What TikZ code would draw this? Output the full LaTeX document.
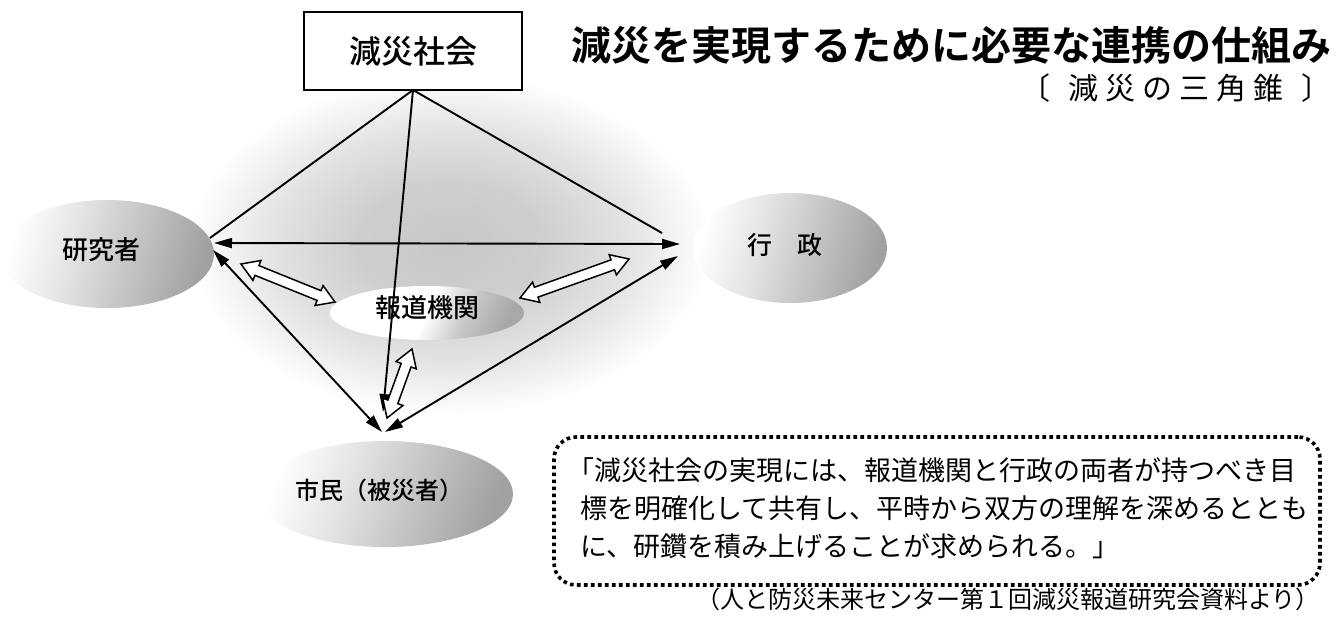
\documentclass[tikz,border=0pt]{standalone}
\usepackage{fontspec}
\newfontfamily\jp{Noto Sans CJK JP}
\newfontfamily\jpm{Noto Sans CJK JP Medium}
\newfontfamily\jpb{Noto Sans CJK JP Bold}
\usetikzlibrary{arrows.meta,shapes.arrows,calc}
\pgfdeclarehorizontalshading{blobR}{100bp}{color(0bp)=(white); color(25bp)=(white); color(40bp)=(gray!20); color(56bp)=(gray!45); color(75bp)=(gray!74); color(100bp)=(gray!74)}
\pgfdeclarehorizontalshading{mediaS}{100bp}{color(0bp)=(white); color(25bp)=(white); color(50bp)=(white); color(62bp)=(gray!42); color(75bp)=(gray!68); color(100bp)=(gray!68)}
\pgfdeclareradialshading{cloudS}{\pgfpoint{0bp}{0bp}}{color(0bp)=(gray!44); color(9bp)=(gray!38); color(17bp)=(gray!22); color(25bp)=(white); color(50bp)=(white)}
\tikzset{ah/.tip={Triangle[length=18pt,width=10pt]}}
\begin{document}
\begin{tikzpicture}[x=1pt,y=-1pt,
  lbl/.style={font=\jpm\fontsize{26}{26}\selectfont, inner sep=0pt},
  conn/.style={line width=1.9pt},
  hollow/.style={double arrow, draw, fill=white, line width=1.5pt, inner xsep=0pt, inner ysep=4.5pt,
    double arrow head extend=5.5pt, double arrow tip angle=64},
  bodytxt/.style={font=\jp\fontsize{27}{27}\selectfont, inner sep=0pt, anchor=west}]
\useasboundingbox (0,0) rectangle (1336,630);

% background cloud of the pyramid
\shade[shading=cloudS] (450,245) ellipse [x radius=260pt, y radius=170pt];

% blobs
\shade[shading=blobR, shading angle=-15] (107,254) ellipse [x radius=107pt, y radius=54pt];
\shade[shading=blobR, shading angle=-15] (790,248) ellipse [x radius=97pt, y radius=55pt];
\shade[shading=mediaS, shading angle=-25] (427,313) ellipse [x radius=97pt, y radius=27pt];
\shade[shading=blobR, shading angle=-20] (385,494) ellipse [x radius=128pt, y radius=53pt];

% top box
\node[draw, line width=1.9pt, fill=white, minimum width=218pt, minimum height=78pt,
  font=\jpm\fontsize{32}{32}\selectfont, inner sep=0pt] (soc) at (413,51) {減災社会};

% labels
\node[lbl] (res) at (101,250) {研究者};
\node[lbl, font=\jpm\fontsize{25}{25}\selectfont] (gov) at (785,245) {行　政};
\node[lbl] (med) at (427,308) {報道機関};
\node[lbl, font=\jpm\fontsize{24}{24}\selectfont] (cit) at (379,490) {市民（被災者）};

% title
\node[anchor=west, inner sep=0pt, font=\jpb\fontsize{40}{40}\selectfont] (title) at (571,45) {減災を実現するために必要な連携の仕組み};
\node[anchor=east, inner sep=0pt, font=\jp\fontsize{30}{30}\selectfont] (sub) at (1332,88)
  {〔\kern18pt 減\kern7pt 災\kern7pt の\kern7pt 三\kern7pt 角\kern7pt 錐\kern18pt 〕};

% vertices
\coordinate (apex) at (413,90);
\coordinate (Lt) at (210,238);
\coordinate (Lh) at (214,243);
\coordinate (Lb) at (213,250);
\coordinate (Rt) at (662,233);
\coordinate (Rh) at (680,244);
\coordinate (Rb) at (678,256);
\coordinate (Bv) at (383,412);
\coordinate (Bl) at (382,432);
\coordinate (Br) at (385,432);

\draw[conn] (apex) -- (Lt);
\draw[conn] (apex) -- (Rt);
\draw[conn, -ah] (apex) -- (Bv);
\draw[conn, ah-ah] (Lh) -- (Rh);
\draw[conn, ah-ah] (Lb) -- (Bl);
\draw[conn, ah-ah] (Rb) -- (Br);

% hollow double arrows
\coordinate (hA1) at (241,264); \coordinate (hA2) at (335,302);
\coordinate (hB1) at (520,298); \coordinate (hB2) at (629,259);
\coordinate (hC1) at (387,418); \coordinate (hC2) at (412,349);
\foreach \ca/\cb/\nm in {hA1/hA2/ha, hB1/hB2/hb, hC1/hC2/hc}{
  \path let \p1=(\ca), \p2=(\cb), \n1={atan2(\y2-\y1,\x2-\x1)}, \n2={veclen(\x2-\x1,\y2-\y1)} in
    node[hollow, rotate=\n1, minimum height=\n2] (\nm) at ($(\ca)!0.5!(\cb)$) {};
}

% quote box
\node[draw, line width=3.6pt, dash pattern=on 3.6pt off 3.4pt, rounded corners=22pt,
  minimum width=766pt, minimum height=148pt, inner sep=0pt] (quote) at (937,511) {};
\node[bodytxt] (q1) at (567,470) {「減災社会の実現には、報道機関と行政の両者が持つべき目};
\node[bodytxt] (q2) at (580,508) {標を明確化して共有し、平時から双方の理解を深めるととも};
\node[bodytxt] (q3) at (580,546) {に、研鑽を積み上げることが求められる。」};

\node[inner sep=0pt, font=\jp\fontsize{24}{24}\selectfont] (src) at (1008,599) {（人と防災未来センター第１回減災報道研究会資料より）};
\end{tikzpicture}
\end{document}
